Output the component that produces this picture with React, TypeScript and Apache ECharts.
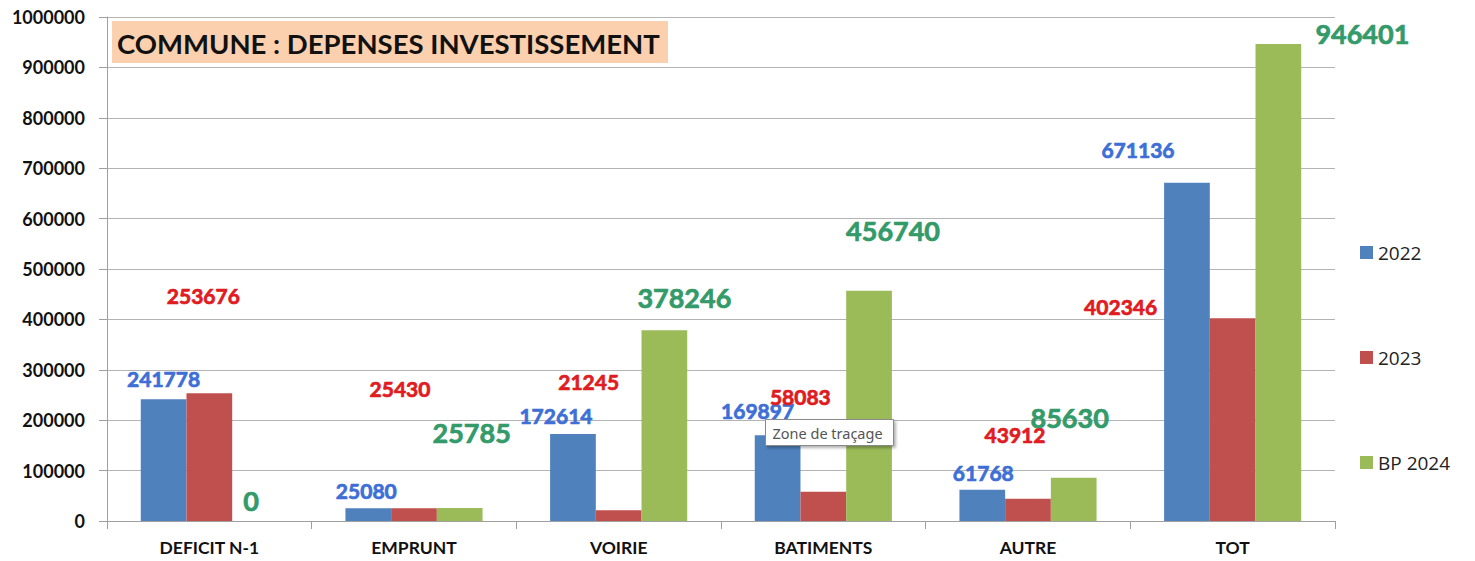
import React, { useEffect, useRef } from "react";
import * as echarts from "echarts";

const categories = ["DEFICIT N-1", "EMPRUNT", "VOIRIE", "BATIMENTS", "AUTRE", "TOT"];
const seriesNames = ["2022", "2023", "BP 2024"];
const values2022 = [241778, 25080, 172614, 169897, 61768, 671136];
const values2023 = [253676, 25430, 21245, 58083, 43912, 402346];
const valuesBP2024 = [0, 25785, 378246, 456740, 85630, 946401];
const yTicks = { min: 0, max: 1000000, interval: 100000 };
const titleText = "COMMUNE : DEPENSES INVESTISSEMENT";
const hoverText = "Zone de traçage";

// label offsets (layout only)
const off2022 = [[0, -5], [-2, -2], [-17, -3], [-20, -9], [1, -2], [-49, -18]];
const off2023 = [[-6, -82], [-14, -104], [-30, -113], [-23, -80], [-13, -49], [-112, 4]];
const offBP = [[-4, -2], [12, -57], [20, -14], [24, -42], [-4, -42], [84, 8]];

const FONT = "Lato, 'Open Sans', sans-serif";

function mk(values: number[], offs: number[][]) {
  return values.map((v, i) => ({ value: v, label: { offset: offs[i] } }));
}

export default function App() {
  const ref = useRef<HTMLDivElement>(null);
  useEffect(() => {
    if (!ref.current) return;
    const chart = echarts.init(ref.current, undefined, { renderer: "svg" });
    const lbl = (color: string, size: number) => ({
      show: true,
      position: "top",
      distance: 5,
      color,
      fontSize: size,
      fontWeight: "bold",
      fontFamily: FONT,
      textBorderColor: color,
      textBorderWidth: 0.7,
    });
    chart.setOption({
      animation: false,
      backgroundColor: "#ffffff",
      grid: { left: 107, right: 140, top: 17, bottom: 40, containLabel: false },
      legend: {
        orient: "vertical",
        left: 1360,
        top: 243,
        padding: 0,
        itemWidth: 13,
        itemHeight: 13,
        itemGap: 86,
        icon: "rect",
        data: seriesNames,
        textStyle: { fontSize: 19, color: "#222", fontFamily: "'Open Sans', sans-serif", lineHeight: 18 },
      },
      xAxis: {
        type: "category",
        data: categories,
        axisLine: { lineStyle: { color: "#a0a0a0", width: 1 } },
        axisTick: { show: true, length: 8, lineStyle: { color: "#a0a0a0" } },
        axisLabel: { color: "#111", fontSize: 17.5, fontWeight: "bold", fontFamily: FONT, margin: 17 },
      },
      yAxis: {
        type: "value",
        min: yTicks.min,
        max: yTicks.max,
        interval: yTicks.interval,
        axisLine: { show: true, lineStyle: { color: "#a0a0a0" } },
        axisTick: { show: true, length: 8, lineStyle: { color: "#a0a0a0" } },
        splitLine: { lineStyle: { color: "#b4b4b4", width: 1 } },
        axisLabel: {
          color: "#111",
          fontSize: 18,
          fontWeight: "bold",
          fontFamily: FONT,
          margin: 22,
          formatter: (v: number) => String(v),
        },
      },
      series: [
        {
          name: seriesNames[0],
          type: "bar",
          data: mk(values2022, off2022),
          itemStyle: { color: "#4F81BD" },
          barGap: "0%",
          barCategoryGap: "33%",
          label: lbl("#3D6FD6", 21),
        },
        {
          name: seriesNames[1],
          type: "bar",
          data: mk(values2023, off2023),
          itemStyle: { color: "#C0504D" },
          barGap: "0%",
          barCategoryGap: "33%",
          label: lbl("#E01B22", 21),
        },
        {
          name: seriesNames[2],
          type: "bar",
          data: mk(valuesBP2024, offBP),
          itemStyle: { color: "#9BBB59" },
          barGap: "0%",
          barCategoryGap: "33%",
          label: lbl("#339A6A", 27),
        },
      ],
      graphic: [
        {
          type: "group",
          left: 112,
          top: 21,
          children: [
            { type: "rect", z: 100, shape: { x: 0, y: 0, width: 556, height: 42 }, style: { fill: "#FAD0AE" } },
            {
              type: "text",
              z: 101,
              x: 5,
              y: 22,
              style: {
                text: titleText,
                fill: "#111",
                font: `bold 27.5px ${FONT}`,
                verticalAlign: "middle",
              },
            },
          ],
        },
        {
          type: "group",
          left: 765,
          top: 419,
          children: [
            {
              type: "rect",
              z: 100,
              shape: { x: 0, y: 0, width: 128, height: 26 },
              style: { fill: "#ffffff", stroke: "#8a8a8a", lineWidth: 1, shadowBlur: 3, shadowColor: "rgba(0,0,0,0.3)", shadowOffsetX: 2, shadowOffsetY: 2 },
            },
            {
              type: "text",
              z: 101,
              x: 7,
              y: 13,
              style: { text: hoverText, fill: "#555", font: "14.5px 'Noto Sans', sans-serif", verticalAlign: "middle" },
            },
          ],
        },
      ],
    });
    return () => chart.dispose();
  }, []);
  return <div ref={ref} style={{ position: "fixed", left: 0, top: 0, width: 1475, height: 561 }} />;
}
